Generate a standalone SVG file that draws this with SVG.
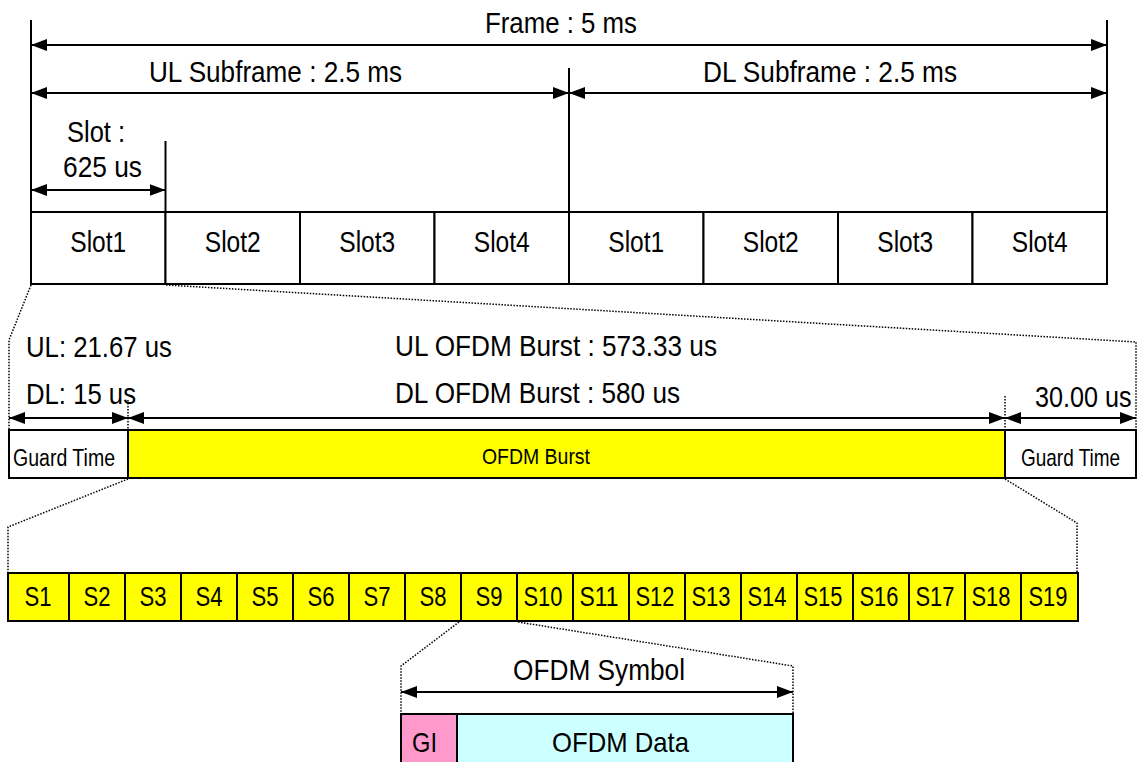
<svg xmlns="http://www.w3.org/2000/svg" width="1137" height="762" viewBox="0 0 1137 762">
<style>
text{font-family:"Liberation Sans Narrow","Liberation Sans",Arial,sans-serif;fill:#000;}
.t30{font-size:30px;}
.t28{font-size:28px;}
.t23{font-size:23px;}
.t22{font-size:22px;}
.m{text-anchor:middle;}
.ln{stroke:#000;stroke-width:2;fill:none;}
.ar{stroke:#000;stroke-width:2;fill:none;marker-start:url(#ah);marker-end:url(#ah);}
.dot{stroke:#000;stroke-width:1.5;fill:none;stroke-dasharray:1.5 1.5;}
.box{stroke:#000;stroke-width:2;}
</style>
<defs>
<marker id="ah" markerUnits="userSpaceOnUse" markerWidth="16" markerHeight="12" refX="16" refY="6" orient="auto-start-reverse">
<path d="M0,0 L16,6 L0,12 z" fill="#000"/>
</marker>
</defs>
<rect width="1137" height="762" fill="#fff"/>

<g id="connectors">
<line class="ln" x1="31" y1="20" x2="31" y2="284"/>
<line class="ln" x1="1107" y1="20" x2="1107" y2="284"/>
<line class="ln" x1="569" y1="68" x2="569" y2="284"/>
<line class="ln" x1="165.5" y1="141" x2="165.5" y2="284"/>
<line class="ar" x1="31" y1="45" x2="1107" y2="45"/>
<line class="ar" x1="31" y1="93" x2="569" y2="93"/>
<line class="ar" x1="569" y1="93" x2="1107" y2="93"/>
<line class="ar" x1="31" y1="190" x2="165.5" y2="190"/>
<line class="ar" x1="9" y1="418" x2="128" y2="418"/>
<line class="ar" x1="128" y1="418" x2="1005" y2="418"/>
<line class="ar" x1="1005" y1="418" x2="1136" y2="418"/>
<line class="ar" x1="401" y1="692" x2="793" y2="692"/>
<polyline class="dot" points="31,285 9,340 9,430"/>
<polyline class="dot" points="166,285 1136,342 1136,430"/>
<line class="dot" x1="128" y1="400" x2="128" y2="430"/>
<line class="dot" x1="1005" y1="396" x2="1005" y2="430"/>
<polyline class="dot" points="128,479 8,527 8,573"/>
<polyline class="dot" points="1005,479 1077,523 1077,573"/>
<polyline class="dot" points="459,622 401,666 401,714"/>
<polyline class="dot" points="518,622 793,666 793,714"/>
</g>

<g id="labels">
<text class="t30 m" x="561" y="33" textLength="152" lengthAdjust="spacingAndGlyphs">Frame : 5 ms</text>
<text class="t30" x="149" y="82" textLength="253" lengthAdjust="spacingAndGlyphs">UL Subframe : 2.5 ms</text>
<text class="t30" x="703" y="82" textLength="254" lengthAdjust="spacingAndGlyphs">DL Subframe : 2.5 ms</text>
<text class="t30" x="67" y="142" textLength="58" lengthAdjust="spacingAndGlyphs">Slot :</text>
<text class="t30" x="63" y="177" textLength="79" lengthAdjust="spacingAndGlyphs">625 us</text>
<text class="t30" x="26" y="357" textLength="146" lengthAdjust="spacingAndGlyphs">UL: 21.67 us</text>
<text class="t30" x="26" y="404" textLength="110" lengthAdjust="spacingAndGlyphs">DL: 15 us</text>
<text class="t30" x="395" y="356" textLength="322" lengthAdjust="spacingAndGlyphs">UL OFDM Burst : 573.33 us</text>
<text class="t30" x="395" y="403" textLength="285" lengthAdjust="spacingAndGlyphs">DL OFDM Burst : 580 us</text>
<text class="t30" transform="translate(1035,407) scale(0.84,1)" x="0" y="0">30.00 us</text>
<text class="t30" x="513" y="680" textLength="172" lengthAdjust="spacingAndGlyphs">OFDM Symbol</text>
</g>

<g id="slots">
<g id="ul-slot1"><rect class="box" x="31" y="212" width="134.5" height="72" fill="#fff"/><text class="t30 m" x="98.25" y="252" textLength="56" lengthAdjust="spacingAndGlyphs">Slot1</text></g>
<g id="ul-slot2"><rect class="box" x="165.5" y="212" width="134.5" height="72" fill="#fff"/><text class="t30 m" x="232.75" y="252" textLength="56" lengthAdjust="spacingAndGlyphs">Slot2</text></g>
<g id="ul-slot3"><rect class="box" x="300" y="212" width="134.5" height="72" fill="#fff"/><text class="t30 m" x="367.25" y="252" textLength="56" lengthAdjust="spacingAndGlyphs">Slot3</text></g>
<g id="ul-slot4"><rect class="box" x="434.5" y="212" width="134.5" height="72" fill="#fff"/><text class="t30 m" x="501.75" y="252" textLength="56" lengthAdjust="spacingAndGlyphs">Slot4</text></g>
<g id="dl-slot1"><rect class="box" x="569" y="212" width="134.5" height="72" fill="#fff"/><text class="t30 m" x="636.25" y="252" textLength="56" lengthAdjust="spacingAndGlyphs">Slot1</text></g>
<g id="dl-slot2"><rect class="box" x="703.5" y="212" width="134.5" height="72" fill="#fff"/><text class="t30 m" x="770.75" y="252" textLength="56" lengthAdjust="spacingAndGlyphs">Slot2</text></g>
<g id="dl-slot3"><rect class="box" x="838" y="212" width="134.5" height="72" fill="#fff"/><text class="t30 m" x="905.25" y="252" textLength="56" lengthAdjust="spacingAndGlyphs">Slot3</text></g>
<g id="dl-slot4"><rect class="box" x="972.5" y="212" width="134.5" height="72" fill="#fff"/><text class="t30 m" x="1039.75" y="252" textLength="56" lengthAdjust="spacingAndGlyphs">Slot4</text></g>
</g>

<g id="burst-row">
<g id="guard-left"><rect class="box" x="9" y="430" width="119" height="48" fill="#fff"/><text class="t23" x="13" y="466" textLength="102" lengthAdjust="spacingAndGlyphs">Guard Time</text></g>
<g id="ofdm-burst"><rect class="box" x="128" y="430" width="877" height="48" fill="#ffff00"/><text class="t22" x="482" y="464" textLength="108" lengthAdjust="spacingAndGlyphs">OFDM Burst</text></g>
<g id="guard-right"><rect class="box" x="1005" y="430" width="131" height="48" fill="#fff"/><text class="t23" transform="translate(1021,466) scale(0.825,1)" x="0" y="0">Guard Time</text></g>
</g>

<g id="symbols">
<g id="s1"><rect class="box" x="8" y="573" width="61" height="48" fill="#ffff00"/><text class="t28 m" x="38" y="606" textLength="27" lengthAdjust="spacingAndGlyphs">S1</text></g>
<g id="s2"><rect class="box" x="69" y="573" width="56" height="48" fill="#ffff00"/><text class="t28 m" x="97" y="606" textLength="27" lengthAdjust="spacingAndGlyphs">S2</text></g>
<g id="s3"><rect class="box" x="125" y="573" width="56" height="48" fill="#ffff00"/><text class="t28 m" x="153" y="606" textLength="27" lengthAdjust="spacingAndGlyphs">S3</text></g>
<g id="s4"><rect class="box" x="181" y="573" width="56" height="48" fill="#ffff00"/><text class="t28 m" x="209" y="606" textLength="27" lengthAdjust="spacingAndGlyphs">S4</text></g>
<g id="s5"><rect class="box" x="237" y="573" width="56" height="48" fill="#ffff00"/><text class="t28 m" x="265" y="606" textLength="27" lengthAdjust="spacingAndGlyphs">S5</text></g>
<g id="s6"><rect class="box" x="293" y="573" width="56" height="48" fill="#ffff00"/><text class="t28 m" x="321" y="606" textLength="27" lengthAdjust="spacingAndGlyphs">S6</text></g>
<g id="s7"><rect class="box" x="349" y="573" width="56" height="48" fill="#ffff00"/><text class="t28 m" x="377" y="606" textLength="27" lengthAdjust="spacingAndGlyphs">S7</text></g>
<g id="s8"><rect class="box" x="405" y="573" width="56" height="48" fill="#ffff00"/><text class="t28 m" x="433" y="606" textLength="27" lengthAdjust="spacingAndGlyphs">S8</text></g>
<g id="s9"><rect class="box" x="461" y="573" width="56" height="48" fill="#ffff00"/><text class="t28 m" x="489" y="606" textLength="27" lengthAdjust="spacingAndGlyphs">S9</text></g>
<g id="s10"><rect class="box" x="517" y="573" width="56" height="48" fill="#ffff00"/><text class="t28 m" x="543" y="606" textLength="39" lengthAdjust="spacingAndGlyphs">S10</text></g>
<g id="s11"><rect class="box" x="573" y="573" width="56" height="48" fill="#ffff00"/><text class="t28 m" x="599" y="606" textLength="39" lengthAdjust="spacingAndGlyphs">S11</text></g>
<g id="s12"><rect class="box" x="629" y="573" width="56" height="48" fill="#ffff00"/><text class="t28 m" x="655" y="606" textLength="39" lengthAdjust="spacingAndGlyphs">S12</text></g>
<g id="s13"><rect class="box" x="685" y="573" width="56" height="48" fill="#ffff00"/><text class="t28 m" x="711" y="606" textLength="39" lengthAdjust="spacingAndGlyphs">S13</text></g>
<g id="s14"><rect class="box" x="741" y="573" width="56" height="48" fill="#ffff00"/><text class="t28 m" x="767" y="606" textLength="39" lengthAdjust="spacingAndGlyphs">S14</text></g>
<g id="s15"><rect class="box" x="797" y="573" width="56" height="48" fill="#ffff00"/><text class="t28 m" x="823" y="606" textLength="39" lengthAdjust="spacingAndGlyphs">S15</text></g>
<g id="s16"><rect class="box" x="853" y="573" width="56" height="48" fill="#ffff00"/><text class="t28 m" x="879" y="606" textLength="39" lengthAdjust="spacingAndGlyphs">S16</text></g>
<g id="s17"><rect class="box" x="909" y="573" width="56" height="48" fill="#ffff00"/><text class="t28 m" x="935" y="606" textLength="39" lengthAdjust="spacingAndGlyphs">S17</text></g>
<g id="s18"><rect class="box" x="965" y="573" width="56" height="48" fill="#ffff00"/><text class="t28 m" x="991" y="606" textLength="39" lengthAdjust="spacingAndGlyphs">S18</text></g>
<g id="s19"><rect class="box" x="1021" y="573" width="57" height="48" fill="#ffff00"/><text class="t28 m" x="1048" y="606" textLength="39" lengthAdjust="spacingAndGlyphs">S19</text></g>
</g>

<g id="ofdm-symbol">
<g id="gi"><rect class="box" x="401" y="714" width="56" height="52" fill="#ff99cc"/><text class="t28 m" x="424.5" y="752" textLength="25" lengthAdjust="spacingAndGlyphs">GI</text></g>
<g id="ofdm-data"><rect class="box" x="457" y="714" width="336" height="52" fill="#ccffff"/><text class="t28 m" x="620.5" y="752" textLength="137" lengthAdjust="spacingAndGlyphs">OFDM Data</text></g>
</g>
</svg>
